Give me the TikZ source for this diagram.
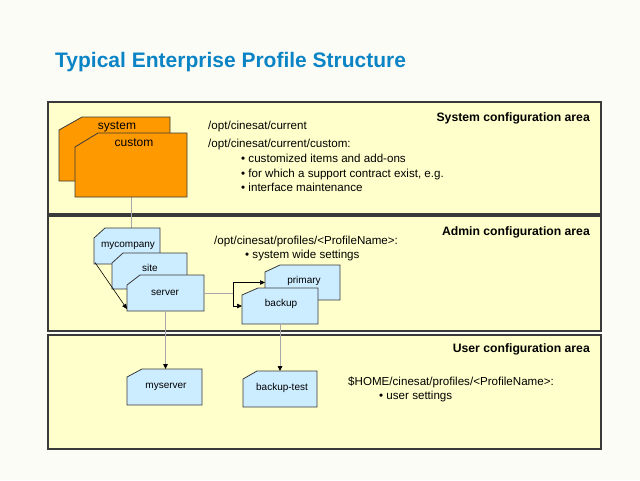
\documentclass[tikz,border=0pt]{standalone}
\usepackage{fontspec}
\setmainfont{Liberation Sans}
\usetikzlibrary{arrows.meta}
\definecolor{pagebg}{HTML}{FCFCF7}
\definecolor{areafill}{HTML}{FFFFCC}
\definecolor{arealine}{HTML}{3A3A3A}
\definecolor{orangefill}{HTML}{FF9900}
\definecolor{bluefill}{HTML}{CCECFF}
\definecolor{folderline}{HTML}{3A3A3A}
\definecolor{titleblue}{HTML}{0B84C6}
\definecolor{greyline}{HTML}{A8A8A8}
\newcommand\folderbox[8]{%
  \node[anchorbox, minimum width={#4-#2}, minimum height={#5-#3}] (#1) at ({(#2+#4)/2},{(#3+#5)/2}) {};
  \draw[#8] (#1.north west) ++(0,#7) -- ++(#6,-#7) -- (#1.north east) -- (#1.south east) -- (#1.south west) -- cycle;
}
\begin{document}
\begin{tikzpicture}[x=1pt,y=-1pt,
  area/.style={draw=arealine, line width=1.1pt, fill=areafill, inner sep=0pt},
  anchorbox/.style={inner sep=0pt, outer sep=0pt, draw=none},
  orangefolder/.style={draw=folderline, line width=0.8pt, fill=orangefill},
  bluefolder/.style={draw=folderline, line width=0.8pt, fill=bluefill},
  titletext/.style={font=\fontsize{21}{25}\selectfont\bfseries, text=titleblue, anchor=base west, inner sep=0pt},
  areatitle/.style={font=\fontsize{12.2}{14}\selectfont\bfseries, anchor=base east, inner sep=0pt},
  desc/.style={font=\fontsize{11.6}{14}\selectfont, anchor=base west, inner sep=0pt},
  biglabel/.style={font=\fontsize{12}{14}\selectfont, anchor=base, inner sep=0pt},
  smalllabel/.style={font=\fontsize{10}{12}\selectfont, anchor=base, inner sep=0pt},
  greyconn/.style={draw=greyline, line width=0.8pt},
  blackconn/.style={draw=black, line width=0.6pt},
  tip/.style={-{Triangle[length=5pt,width=4.5pt,color=black]}}
]
\fill[pagebg] (0,0) rectangle (640,480);
\useasboundingbox (0,0) rectangle (640,480);

\node[titletext] (title) at (55,67) {Typical Enterprise Profile Structure};

% areas
\node[area, minimum width=553, minimum height=112] (sysarea) at (324.5,158) {};
\node[area, minimum width=553, minimum height=115] (adminarea) at (324.5,273.5) {};
\node[area, minimum width=553, minimum height=114] (userarea) at (324.5,392) {};

\node[areatitle] (systitle) at (590,121) {System configuration area};
\node[areatitle] (admintitle) at (590,235) {Admin configuration area};
\node[areatitle] (usertitle) at (590,352) {User configuration area};

% system texts
\node[desc] (sys1) at (208,129.3) {/opt/cinesat/current};
\node[desc] (sys2) at (208,147.7) {/opt/cinesat/current/custom:};
\node[desc] (sys3) at (241,162.3) {\textbullet\ customized items and add-ons};
\node[desc] (sys4) at (241,177.3) {\textbullet\ for which a support contract exist, e.g.};
\node[desc] (sys5) at (241,191.7) {\textbullet\ interface maintenance};

% admin texts
\node[desc] (adm1) at (214,244.5) {/opt/cinesat/profiles/<ProfileName>:};
\node[desc] (adm2) at (245,258.5) {\textbullet\ system wide settings};

% user texts
\node[desc] (usr1) at (348,385.5) {\$HOME/cinesat/profiles/<ProfileName>:};
\node[desc] (usr2) at (379,399.5) {\textbullet\ user settings};

% connector from custom to mycompany (behind folders)
\coordinate (mctop) at (131,228);
\draw[greyconn] (131,197) -- (mctop);

% orange folders
\folderbox{system}{59}{117}{170}{181}{23}{13}{orangefolder}
\node[biglabel] (systeml) at (117,129) {system};
\folderbox{custom}{75}{133}{187}{197}{23}{14}{orangefolder}
\node[biglabel] (customl) at (134,146) {custom};

% connectors in admin area (behind folders)
\coordinate (split) at (233,293);

% blue folders
\folderbox{mycompany}{94}{228}{160}{264}{11}{10}{bluefolder}
\node[smalllabel] (mycompanyl) at (128,247.5) {mycompany};
\folderbox{site}{112}{253}{187}{289}{11}{10}{bluefolder}
\node[smalllabel] (sitel) at (150,271.5) {site};
\folderbox{server}{127}{275}{204}{311}{13}{10}{bluefolder}
\node[smalllabel] (serverl) at (165,295.5) {server};

\folderbox{primary}{265}{265}{340}{300}{15}{7}{bluefolder}
\node[smalllabel] (primaryl) at (304,283.5) {primary};
\folderbox{backup}{242}{288}{318}{324}{16}{7}{bluefolder}
\node[smalllabel] (backupl) at (281,306.5) {backup};

\folderbox{myserver}{127}{369}{202}{405}{15}{8}{bluefolder}
\node[smalllabel] (myserverl) at (166,388.5) {myserver};
\folderbox{backuptest}{243}{371}{317}{407}{14}{8}{bluefolder}
\node[smalllabel] (backuptestl) at (282,390.5) {backup-test};

% connectors
\draw[blackconn, tip] ([shift={(1pt,1.5pt)}]mycompany.south west) -- ([shift={(0pt,2pt)}]server.south west);
\draw[greyconn] (server.east) -- (split);
\draw[blackconn, tip] (split) |- (primary.west);
\draw[blackconn, tip] (split) |- (backup.west);
\draw[greyconn, tip] (server.south) -- (server.south |- myserver.north);
\draw[greyconn, tip] (backup.south) -- (backup.south |- backuptest.north);
\end{tikzpicture}
\end{document}
